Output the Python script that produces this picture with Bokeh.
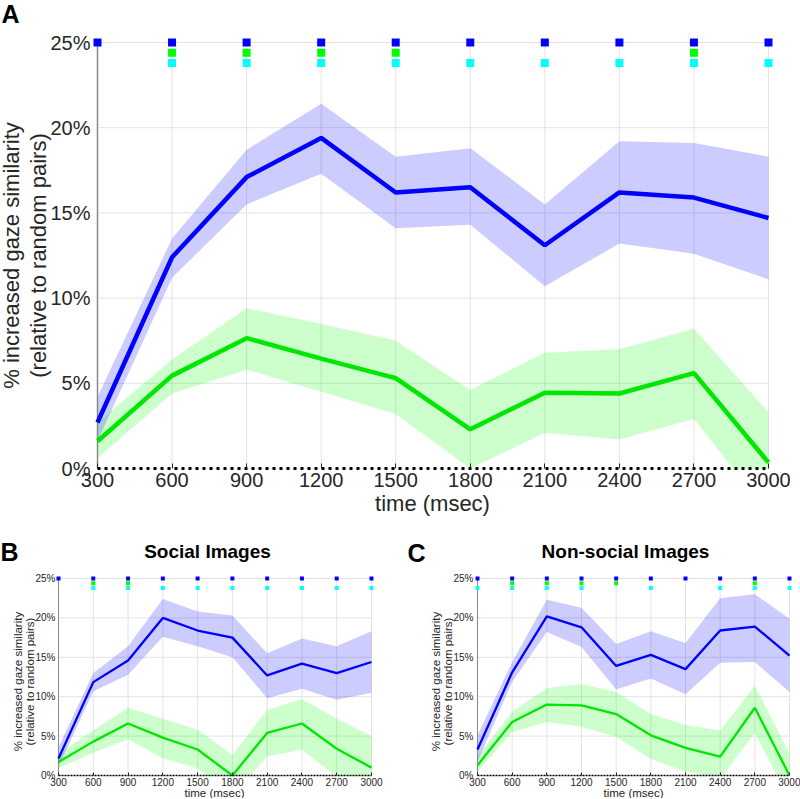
import math
from bokeh.plotting import figure
from bokeh.layouts import column, row
from bokeh.models import Range1d, FixedTicker, Label
from bokeh.embed import file_html
from bokeh.resources import INLINE

# ---------------- data ----------------
times = [300, 600, 900, 1200, 1500, 1800, 2100, 2400, 2700, 3000]
x_tick_labels = ["300", "600", "900", "1200", "1500", "1800", "2100", "2400", "2700", "3000"]
y_ticks = [0, 5, 10, 15, 20, 25]
y_tick_labels = ["0%", "5%", "10%", "15%", "20%", "25%"]

# Panel A (all images)
a_blue_mean = [2.7, 12.4, 17.1, 19.4, 16.2, 16.5, 13.1, 16.2, 15.9, 14.7]
a_blue_upper = [4.2, 13.5, 18.7, 21.4, 18.3, 18.8, 15.5, 19.2, 19.1, 18.3]
a_blue_lower = [1.6, 11.2, 15.5, 17.3, 14.1, 14.3, 10.7, 13.2, 12.6, 11.1]
a_green_mean = [1.6, 5.45, 7.65, 6.45, 5.3, 2.3, 4.45, 4.4, 5.6, 0.35]
a_green_upper = [2.7, 6.4, 9.4, 8.5, 7.5, 4.6, 6.8, 7.0, 8.2, 3.3]
a_green_lower = [0.6, 4.4, 5.8, 4.5, 3.2, 0.0, 2.1, 1.7, 2.9, -2.6]
a_sig_blue = [300, 600, 900, 1200, 1500, 1800, 2100, 2400, 2700, 3000]
a_sig_green = [600, 900, 1200, 1500, 2700]
a_sig_cyan = [600, 900, 1200, 1500, 1800, 2100, 2400, 2700, 3000]

# Panel B (social images)
b_blue_mean = [2.15, 11.85, 14.6, 20.0, 18.4, 17.5, 12.7, 14.2, 13.0, 14.4]
b_blue_upper = [3.6, 13.0, 16.4, 22.4, 20.8, 20.3, 15.5, 17.4, 16.4, 18.3]
b_blue_lower = [1.1, 10.7, 12.8, 17.6, 16.4, 15.0, 9.8, 11.0, 9.6, 10.5]
b_green_mean = [1.7, 4.3, 6.6, 4.8, 3.3, 0.0, 5.4, 6.6, 3.4, 1.0]
b_green_upper = [2.8, 5.7, 8.6, 7.2, 5.8, 2.6, 8.3, 9.7, 7.2, 5.0]
b_green_lower = [0.9, 2.9, 4.6, 2.2, 0.9, -2.5, 2.4, 3.3, -0.2, -3.0]
b_sig_blue = [300, 600, 900, 1200, 1500, 1800, 2100, 2400, 2700, 3000]
b_sig_green = [600, 900]
b_sig_cyan = [600, 900, 1200, 1500, 1800, 2100, 2400, 2700, 3000]

# Panel C (non-social images)
c_blue_mean = [3.3, 13.1, 20.2, 18.8, 13.9, 15.3, 13.5, 18.4, 18.9, 15.2]
c_blue_upper = [5.1, 14.4, 22.3, 21.3, 16.7, 18.3, 16.8, 22.5, 23.0, 19.9]
c_blue_lower = [1.7, 11.9, 18.2, 16.3, 10.9, 12.3, 10.3, 14.3, 14.4, 10.6]
c_green_mean = [1.3, 6.8, 9.0, 8.9, 7.8, 5.1, 3.5, 2.4, 8.6, 0.0]
c_green_upper = [2.4, 8.1, 11.1, 11.6, 10.6, 7.8, 6.4, 5.7, 11.4, 2.8]
c_green_lower = [0.5, 5.5, 6.8, 6.2, 4.9, 2.1, 0.5, -0.4, 5.4, -3.0]
c_sig_blue = [300, 600, 900, 1200, 1500, 1800, 2100, 2400, 2700, 3000]
c_sig_green = [600, 900, 1200, 1500, 2700]
c_sig_cyan = [300, 600, 900, 1200, 1800, 2400, 2700, 3000]

FONT = "Liberation Sans"
TXT = "#262626"
BLUE = "#0000ff"
GREEN = "#00e600"
GREEN_M = "#00ff00"
CYAN = "#00ffff"


def make_panel(spec):
    fx, fy, fw, fh = spec["fig"]           # figure box (page px); frame = whole figure
    x300, x3000, y0, y25 = spec["map"]     # where 300/3000 and 0%/25% sit (page px)

    def dx(px):
        return times[0] + (px - x300) * (times[-1] - times[0]) / (x3000 - x300)

    def dy(py):
        return (y0 - py) * y_ticks[-1] / (y0 - y25)

    xr = Range1d(dx(fx), dx(fx + fw))
    yr = Range1d(dy(fy + fh), dy(fy))
    p = figure(width=fw, height=fh, output_backend="svg", toolbar_location=None,
               title=None, x_range=xr, y_range=yr,
               min_border_left=0, min_border_right=0, min_border_top=0, min_border_bottom=0)
    p.outline_line_color = None
    p.xgrid.visible = False
    p.ygrid.visible = False
    p.background_fill_color = "white"

    s = spec["scale"]
    # grid lines, bounded to the data box
    p.segment(x0=times, y0=[y_ticks[0]] * len(times), x1=times, y1=[y_ticks[-1]] * len(times),
              line_color="#e3e3e3", line_width=1)
    p.segment(x0=[times[0]] * len(y_ticks), y0=y_ticks, x1=[times[-1]] * len(y_ticks), y1=y_ticks,
              line_color="#e3e3e3", line_width=1)

    d = spec["data"]
    p.varea(x=times, y1=d["gl"], y2=d["gu"], fill_color=GREEN_M, fill_alpha=0.2)
    p.varea(x=times, y1=d["bl"], y2=d["bu"], fill_color=BLUE, fill_alpha=0.2)
    # axes box ends at 0%: hide anything below it
    p.varea(x=[xr.start, xr.end], y1=[yr.start, yr.start], y2=[y_ticks[0], y_ticks[0]],
            fill_color="white", fill_alpha=1)

    # y axis line
    p.segment(x0=[times[0]], y0=[y_ticks[0]], x1=[times[0]], y1=[y_ticks[-1]],
              line_color="#8a8a8a", line_width=1.5 * s)

    p.line(times, d["bm"], line_color=BLUE, line_width=spec["lw"])
    p.line(times, d["gm"], line_color=GREEN, line_width=spec["lw"])

    # dotted zero line
    p.line([times[0], times[-1]], [0, 0], line_color="black", line_width=spec["dot_w"],
           line_dash=spec["dot_dash"])

    # significance markers
    ms = spec["ms"]
    p.scatter(d["sb"], [25.0] * len(d["sb"]), marker="square", size=ms, fill_color=BLUE, line_color=None)
    p.scatter(d["sg"], [24.4] * len(d["sg"]), marker="square", size=ms, fill_color=GREEN_M, line_color=None)
    p.scatter(d["sc"], [23.8] * len(d["sc"]), marker="square", size=ms, fill_color=CYAN, line_color=None)

    # axes (placed at the data origin)
    tf = spec["tick_font"]
    xa = p.xaxis[0]
    xa.fixed_location = y_ticks[0]
    xa.ticker = FixedTicker(ticks=times)
    xa.major_label_overrides = {t_: lab for t_, lab in zip(times, x_tick_labels)}
    xa.axis_line_color = None
    xa.major_tick_in = spec["tick_in"]
    xa.major_tick_out = 0
    xa.major_tick_line_color = TXT
    xa.minor_tick_line_color = None
    xa.major_label_text_font = FONT
    xa.major_label_text_font_size = f"{tf}px"
    xa.major_label_text_color = TXT
    xa.major_label_standoff = spec["xstand"]

    ya = p.yaxis[0]
    ya.fixed_location = times[0]
    ya.ticker = FixedTicker(ticks=y_ticks)
    ya.major_label_overrides = {t_: lab for t_, lab in zip(y_ticks, y_tick_labels)}
    ya.axis_line_color = None
    ya.major_tick_line_color = None
    ya.major_tick_in = 0
    ya.major_tick_out = 0
    ya.minor_tick_line_color = None
    ya.major_label_text_font = FONT
    ya.major_label_text_font_size = f"{tf}px"
    ya.major_label_text_color = TXT
    ya.major_label_standoff = spec["ystand"]

    lf = spec["label_font"]
    for txt_, cx in zip(["% increased gaze similarity", "(relative to random pairs)"], spec["ylab_x"]):
        p.add_layout(Label(x=dx(cx), y=dy(spec["ylab_y"]), text=txt_, angle=math.pi / 2,
                           text_align="center", text_baseline="middle",
                           text_font=FONT, text_font_size=f"{lf}px", text_color=TXT))
    p.add_layout(Label(x=dx(spec["xlab"][0]), y=dy(spec["xlab"][1]), text="time (msec)",
                       text_align="center", text_baseline="middle",
                       text_font=FONT, text_font_size=f"{lf}px", text_color=TXT))
    lx, ly, letter = spec["letter"]
    p.add_layout(Label(x=dx(lx), y=dy(ly), text=letter, text_align="left", text_baseline="middle",
                       text_font=FONT, text_font_style="bold", text_font_size=f"{spec['letter_size']}px",
                       text_color="black"))
    if spec.get("title"):
        tx, ty, ttxt = spec["title"]
        p.add_layout(Label(x=dx(tx), y=dy(ty), text=ttxt, text_align="center", text_baseline="middle",
                           text_font=FONT, text_font_style="bold", text_font_size="19px",
                           text_color="black"))
    return p


pA = make_panel(dict(
    fig=(0, 0, 800, 530), map=(97, 768, 468, 42),
    data=dict(bm=a_blue_mean, bu=a_blue_upper, bl=a_blue_lower,
              gm=a_green_mean, gu=a_green_upper, gl=a_green_lower,
              sb=a_sig_blue, sg=a_sig_green, sc=a_sig_cyan),
    scale=1.0, lw=4.5, dot_w=3, dot_dash="3 4", ms=8, tick_font=20, tick_in=5,
    xstand=4, ystand=7, label_font=22, ylab_x=(11, 37.5), ylab_y=255, xlab=(432, 503),
    letter=(1, 13.5, "A"), letter_size=25))

pB = make_panel(dict(
    fig=(0, 530, 404, 268), map=(58, 371, 775, 578),
    data=dict(bm=b_blue_mean, bu=b_blue_upper, bl=b_blue_lower,
              gm=b_green_mean, gu=b_green_upper, gl=b_green_lower,
              sb=b_sig_blue, sg=b_sig_green, sc=b_sig_cyan),
    scale=0.7, lw=2.3, dot_w=1.5, dot_dash="2 1", ms=4, tick_font=10, tick_in=3,
    xstand=2, ystand=3, label_font=11.5, ylab_x=(17.5, 29), ylab_y=681, xlab=(214, 792),
    letter=(0, 551, "B"), letter_size=25, title=(207, 551, "Social Images")))

pC = make_panel(dict(
    fig=(404, 530, 396, 268), map=(477, 789, 775, 578),
    data=dict(bm=c_blue_mean, bu=c_blue_upper, bl=c_blue_lower,
              gm=c_green_mean, gu=c_green_upper, gl=c_green_lower,
              sb=c_sig_blue, sg=c_sig_green, sc=c_sig_cyan),
    scale=0.7, lw=2.3, dot_w=1.5, dot_dash="2 1", ms=4, tick_font=10, tick_in=3,
    xstand=2, ystand=4, label_font=11.5, ylab_x=(435.5, 447.5), ylab_y=681, xlab=(633, 792),
    letter=(407, 552, "C"), letter_size=25, title=(625, 551, "Non-social Images")))

layout = column(pA, row(pB, pC))
open("out.html", "w").write(file_html(layout, INLINE))
